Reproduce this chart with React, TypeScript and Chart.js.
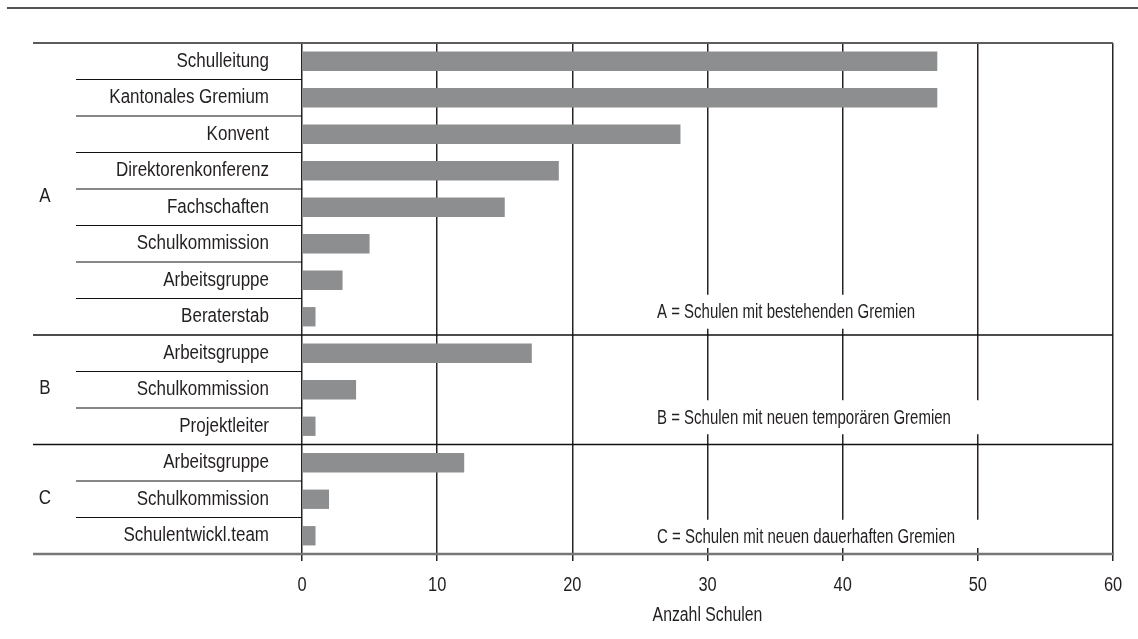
import React, { useEffect, useRef } from "react";
import { Chart, registerables } from "chart.js";

Chart.register(...registerables);

const categories = [
  "Schulleitung",
  "Kantonales Gremium",
  "Konvent",
  "Direktorenkonferenz",
  "Fachschaften",
  "Schulkommission",
  "Arbeitsgruppe",
  "Beraterstab",
  "Arbeitsgruppe",
  "Schulkommission",
  "Projektleiter",
  "Arbeitsgruppe",
  "Schulkommission",
  "Schulentwickl.team",
];
const values = [47, 47, 28, 19, 15, 5, 3, 1, 17, 4, 1, 12, 2, 1];
const groupLabels = ["A", "B", "C"];
const groupSizes = [8, 3, 3];
const groupNotes = [
  "A = Schulen mit bestehenden Gremien",
  "B = Schulen mit neuen temporären Gremien",
  "C = Schulen mit neuen dauerhaften Gremien",
];
const xMin = 0;
const xMax = 60;
const xStep = 10;
const axisTitle = "Anzahl Schulen";

const FAMILY = '"Liberation Sans", Arimo, Arial, sans-serif';
const FONT = `20px ${FAMILY}`;
const TEXT = "#231f20";
const W = 1138;
const H = 639;

const SX_LABEL = 0.85;
const SX_TICK = 0.82;
const SX_TITLE = 0.79;
const SX_NOTE = 0.75;

const noteOffsets = [-4, -8, 2];
const groupLabelOffsets = [7, -1, -1];

function drawText(ctx: CanvasRenderingContext2D, text: string, x: number, y: number, align: CanvasTextAlign, sx: number) {
  ctx.save();
  ctx.translate(x, y);
  ctx.scale(sx, 1);
  ctx.textAlign = align;
  ctx.textBaseline = "middle";
  ctx.fillText(text, 0, 0);
  ctx.restore();
}

function boundaries(chart: any): number[] {
  const y = chart.scales.y;
  const { top, bottom } = chart.chartArea;
  const b: number[] = [top];
  for (let i = 0; i < categories.length - 1; i++) {
    b.push((y.getPixelForValue(i) + y.getPixelForValue(i + 1)) / 2);
  }
  b.push(bottom);
  return b;
}

const decorPlugin = {
  id: "decor",
  beforeDatasetsDraw(chart: any) {
    const ctx = chart.ctx;
    const y = chart.scales.y;
    const { left, bottom } = chart.chartArea;
    ctx.save();
    ctx.font = FONT;
    let idx = 0;
    groupSizes.forEach((n, g) => {
      const last = idx + n - 1;
      const cy = y.getPixelForValue(last) + noteOffsets[g];
      const tx = left + 355;
      const tw = ctx.measureText(groupNotes[g]).width * SX_NOTE;
      const bx0 = tx - 8;
      const bx1 = tx + tw + 36;
      const by0 = cy - 18;
      const by1 = Math.min(cy + 16, bottom - 6);
      ctx.fillStyle = "#ffffff";
      ctx.fillRect(bx0, by0, bx1 - bx0, by1 - by0);
      ctx.fillStyle = TEXT;
      drawText(ctx, groupNotes[g], tx, cy, "left", SX_NOTE);
      idx += n;
    });
    ctx.restore();
  },
  afterDraw(chart: any) {
    const ctx = chart.ctx;
    const y = chart.scales.y;
    const x = chart.scales.x;
    const { left, right, top, bottom } = chart.chartArea;
    const b = boundaries(chart);
    const boxLeft = 33;
    const catLeft = 76;
    ctx.save();

    // top rule
    ctx.strokeStyle = "#1a1a1a";
    ctx.lineWidth = 1.5;
    ctx.beginPath();
    ctx.moveTo(7, 8);
    ctx.lineTo(W, 8);
    ctx.stroke();

    // box top
    ctx.strokeStyle = "#5c5c5c";
    ctx.lineWidth = 2;
    ctx.beginPath();
    ctx.moveTo(boxLeft, top);
    ctx.lineTo(right, top);
    ctx.stroke();

    // separators
    const groupEnds: number[] = [];
    let acc = 0;
    groupSizes.forEach((n) => {
      acc += n;
      groupEnds.push(acc);
    });
    for (let i = 1; i < categories.length; i++) {
      const yy = b[i];
      ctx.strokeStyle = "#111";
      if (groupEnds.includes(i)) {
        ctx.lineWidth = 1.6;
        ctx.beginPath();
        ctx.moveTo(boxLeft, yy);
        ctx.lineTo(right, yy);
        ctx.stroke();
      } else {
        ctx.lineWidth = 1.2;
        ctx.beginPath();
        ctx.moveTo(catLeft, yy);
        ctx.lineTo(left, yy);
        ctx.stroke();
      }
    }

    // bottom axis line
    ctx.strokeStyle = "#777";
    ctx.lineWidth = 2.5;
    ctx.beginPath();
    ctx.moveTo(boxLeft, bottom);
    ctx.lineTo(right + 1, bottom);
    ctx.stroke();

    ctx.font = FONT;
    ctx.fillStyle = TEXT;

    // category labels
    categories.forEach((c, i) => {
      drawText(ctx, c, left - 33, y.getPixelForValue(i), "right", SX_LABEL);
    });

    // group labels
    let start = 0;
    groupSizes.forEach((n, g) => {
      const cy = (b[start] + b[start + n]) / 2 + groupLabelOffsets[g];
      drawText(ctx, groupLabels[g], 45, cy, "center", SX_LABEL);
      start += n;
    });

    // x tick labels
    x.ticks.forEach((t: any) => {
      drawText(ctx, String(t.value), x.getPixelForValue(t.value), 585, "center", SX_TICK);
    });

    // axis title
    drawText(ctx, axisTitle, (x.left + x.right) / 2, 615, "center", SX_TITLE);

    ctx.restore();
  },
};

export default function App() {
  const ref = useRef<HTMLCanvasElement | null>(null);
  useEffect(() => {
    if (!ref.current) return;
    const chart = new Chart(ref.current, {
      type: "bar",
      data: {
        labels: categories,
        datasets: [
          {
            data: values,
            backgroundColor: "#8d8e90",
            borderWidth: 0,
            categoryPercentage: 1,
            barPercentage: 0.53,
          },
        ],
      },
      options: {
        indexAxis: "y",
        responsive: false,
        animation: false,
        devicePixelRatio: 1,
        layout: { padding: { left: 302, right: 25, top: 43, bottom: 0 } },
        plugins: {
          legend: { display: false },
          tooltip: { enabled: false },
        },
        scales: {
          y: {
            display: false,
            grid: { display: false },
          },
          x: {
            min: xMin,
            max: xMax,
            afterFit: (scale: any) => {
              scale.height = 85;
            },
            border: { display: false },
            grid: {
              color: "#2a2226",
              lineWidth: 1.5,
              tickLength: 7,
              drawTicks: true,
              tickColor: "#2a2226",
            },
            ticks: {
              stepSize: xStep,
              display: false,
            },
          },
        },
      },
      plugins: [decorPlugin],
    });
    return () => chart.destroy();
  }, []);
  return (
    <div style={{ position: "absolute", left: 0, top: 0, width: W, height: H, background: "#fff" }}>
      <canvas ref={ref} width={W} height={H} style={{ width: W, height: H, display: "block" }} />
    </div>
  );
}
